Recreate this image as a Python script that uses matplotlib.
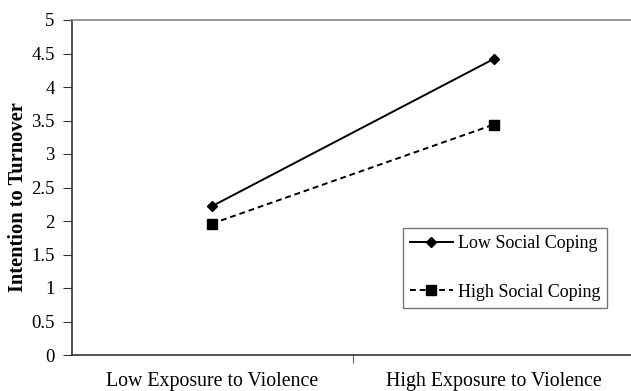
import numpy as np
import matplotlib
matplotlib.use("Agg")
from matplotlib import pyplot as plt

categories = ["Low Exposure to Violence", "High Exposure to Violence"]
low_coping = [2.22, 4.42]
high_coping = [1.96, 3.44]
yticks = [0, 0.5, 1, 1.5, 2, 2.5, 3, 3.5, 4, 4.5, 5]
ytick_labels = ["0", "0.5", "1", "1.5", "2", "2.5", "3", "3.5", "4", "4.5", "5"]

plt.rcParams['font.family'] = ['Liberation Serif', 'DejaVu Serif']

fig = plt.figure(figsize=(6.31, 3.91), dpi=100)
ax = fig.add_axes([72 / 631, 1 - 355 / 391, 1 - 72 / 631, (355 - 20) / 391])

x = np.arange(len(categories))
ax.plot(x, low_coping, color="black", linestyle="-", linewidth=1.4,
        marker="D", markersize=5.5, label="Low Social Coping")
ax.plot(x, high_coping, color="black", linestyle=(0, (3, 2)), linewidth=1.4,
        marker="s", markersize=7, label="High Social Coping")

ax.set_xlim(-0.496, 1.486)
ax.set_ylim(0, 5)
ax.set_yticks(yticks)
ax.set_yticklabels(ytick_labels, fontsize=13.5)
ax.set_xticks(x)
ax.set_xticklabels(categories, fontsize=14.3)
ax.tick_params(axis="x", which="major", length=0, pad=12)
ax.set_xticks([0.5], minor=True)
ax.tick_params(axis="x", which="minor", length=6, direction="out", color="#333333")
ax.tick_params(axis="y", length=6.5, direction="out", color="#333333", pad=6)

ax.spines["right"].set_visible(False)
ax.spines["top"].set_color("#888888")
ax.spines["top"].set_linewidth(1.2)
ax.spines["left"].set_color("#333333")
ax.spines["bottom"].set_color("#333333")
ax.spines["left"].set_linewidth(1.2)
ax.spines["bottom"].set_linewidth(1.2)

ax.set_ylabel("Intention to Turnover", fontsize=14.8, fontweight="bold")
ax.yaxis.set_label_coords(-0.078, 0.472)

leg = ax.legend(loc="lower left", bbox_to_anchor=((403 - 72) / 559, (355 - 308) / 335),
                fontsize=13, frameon=True, fancybox=False, handlelength=2.35,
                labelspacing=1.75, borderpad=0.4, handletextpad=0.28, borderaxespad=0)
leg.get_frame().set_edgecolor("#555555")
leg.get_frame().set_linewidth(1.0)

fig.savefig("out.png", dpi=100)
